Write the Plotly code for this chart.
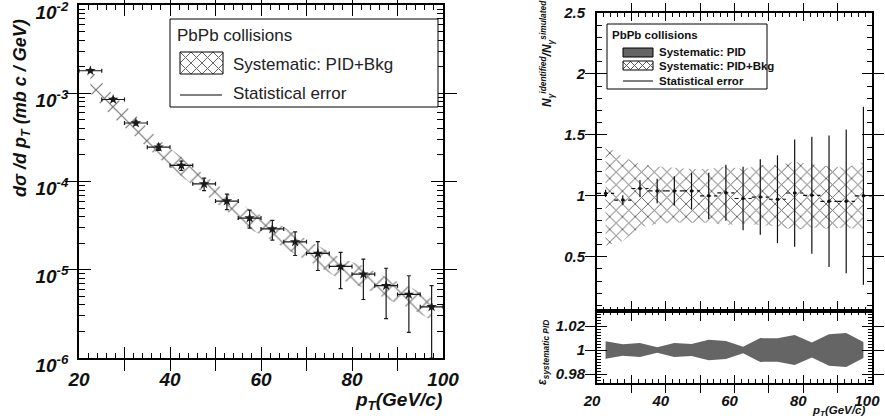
import plotly.graph_objects as go

# ---------------- data ----------------
pt = [22.5, 27.5, 32.5, 37.5, 42.5, 47.5, 52.5, 57.5,
      62.5, 67.5, 72.5, 77.5, 82.5, 87.5, 92.5, 97.5]
pt_half = [2.5, 2.5, 2.5, 2.5, 2.5, 2.5, 2.5, 2.5,
           2.5, 2.5, 2.5, 2.5, 2.5, 2.5, 2.5, 2.5]

spectrum = [1.8e-3, 8.5e-4, 4.6e-4, 2.45e-4, 1.52e-4, 9.4e-5, 6.0e-5, 3.85e-5,
            2.9e-5, 2.07e-5, 1.53e-5, 1.09e-5, 8.9e-6, 6.6e-6, 5.25e-6, 3.8e-6]
spectrum_stat = [5.4e-5, 3.4e-5, 2.3e-5, 2.0e-5, 1.8e-5, 1.5e-5, 1.2e-5, 8.9e-6,
                 7.3e-6, 6.2e-6, 5.5e-6, 4.8e-6, 4.3e-6, 3.8e-6, 3.3e-6, 2.8e-6]
spectrum_sys_hi = [1.85e-3, 9.6e-4, 5.6e-4, 3.0e-4, 1.9e-4, 1.18e-4, 7.5e-5, 4.8e-5,
                   3.6e-5, 2.6e-5, 1.9e-5, 1.36e-5, 1.1e-5, 8.2e-6, 6.5e-6, 4.7e-6]
spectrum_sys_lo = [1.0e-3, 5.3e-4, 3.2e-4, 1.85e-4, 1.15e-4, 7.2e-5, 4.6e-5, 2.9e-5,
                   2.15e-5, 1.5e-5, 1.1e-5, 7.7e-6, 6.3e-6, 4.7e-6, 3.7e-6, 2.7e-6]

ratio = [1.02, 0.965, 1.06, 1.04, 1.04, 1.04, 1.00, 1.025,
         0.978, 0.99, 0.972, 1.023, 1.004, 0.955, 0.955, 1.00]
ratio_stat = [0.03, 0.04, 0.07, 0.10, 0.12, 0.15, 0.19, 0.23,
              0.26, 0.31, 0.36, 0.44, 0.48, 0.54, 0.59, 0.73]
ratio_sys_hi = [1.41, 1.32, 1.26, 1.24, 1.23, 1.22, 1.22, 1.24,
                1.22, 1.25, 1.25, 1.28, 1.26, 1.24, 1.23, 1.28]
ratio_sys_lo = [0.59, 0.63, 0.74, 0.77, 0.78, 0.78, 0.78, 0.76,
                0.77, 0.76, 0.75, 0.72, 0.74, 0.73, 0.74, 0.72]

pid_sys = [0.0072, 0.0048, 0.0058, 0.0023, 0.0058, 0.0051, 0.0086, 0.0076,
           0.0028, 0.0099, 0.0097, 0.0124, 0.0063, 0.0132, 0.0141, 0.0066]

log_ticks = [1e-6, 1e-5, 1e-4, 1e-3, 1e-2]
log_ticktext = ["10<sup>-6</sup>", "10<sup>-5</sup>", "10<sup>-4</sup>",
                "10<sup>-3</sup>", "10<sup>-2</sup>"]
x_ticks = [20, 30, 40, 50, 60, 70, 80, 90, 100]
x_ticktext = ["20", "", "40", "", "60", "", "80", "", "100"]

legend_title = "PbPb collisions"
legend_left = ["Systematic: PID+Bkg", "Statistical error"]
legend_right = ["Systematic: PID", "Systematic: PID+Bkg", "Statistical error"]

# ---------------- styling ----------------
FONT = "Liberation Sans"
W, H = 885, 420
hatch_left = dict(shape="x", fgcolor="#707070", bgcolor="rgba(255,255,255,0)",
                  size=12, solidity=0.18)
hatch_right = dict(shape="x", fgcolor="#606060", bgcolor="rgba(255,255,255,0)",
                   size=9, solidity=0.2)
PID_GRAY = "#656565"

fig = go.Figure()

# ---------------- left panel ----------------
fig.add_trace(go.Scatter(x=pt, y=spectrum_sys_hi, mode="lines", line=dict(width=0),
                         showlegend=False, hoverinfo="skip", xaxis="x", yaxis="y"))
fig.add_trace(go.Scatter(x=pt, y=spectrum_sys_lo, mode="lines", line=dict(width=0),
                         fill="tonexty", fillcolor="rgba(0,0,0,0)", fillpattern=hatch_left,
                         showlegend=False, hoverinfo="skip", xaxis="x", yaxis="y"))
fig.add_trace(go.Scatter(
    x=pt, y=spectrum, mode="markers",
    marker=dict(symbol="star", size=8, color="#1a1a1a"),
    error_y=dict(type="data", array=spectrum_stat, color="#1a1a1a", thickness=1.2, width=2),
    error_x=dict(type="data", array=pt_half, color="#1a1a1a", thickness=1.2, width=2),
    showlegend=False, xaxis="x", yaxis="y"))

# ---------------- right upper panel ----------------
fig.add_trace(go.Scatter(x=pt, y=ratio_sys_hi, mode="lines", line=dict(width=0),
                         showlegend=False, hoverinfo="skip", xaxis="x2", yaxis="y2"))
fig.add_trace(go.Scatter(x=pt, y=ratio_sys_lo, mode="lines", line=dict(width=0),
                         fill="tonexty", fillcolor="rgba(0,0,0,0)", fillpattern=hatch_right,
                         showlegend=False, hoverinfo="skip", xaxis="x2", yaxis="y2"))
hx, hy = [], []
for c, hw, r in zip(pt, pt_half, ratio):
    hx += [c - hw, c + hw, None]
    hy += [r, r, None]
fig.add_trace(go.Scatter(x=hx, y=hy, mode="lines",
                         line=dict(color="#111111", width=1.2, dash="4px,3px"),
                         showlegend=False, hoverinfo="skip", xaxis="x2", yaxis="y2"))
fig.add_trace(go.Scatter(
    x=pt, y=ratio, mode="markers",
    marker=dict(symbol="circle", size=3.5, color="#111111"),
    error_y=dict(type="data", array=ratio_stat, color="#111111", thickness=1.2, width=0),
    showlegend=False, xaxis="x2", yaxis="y2"))

# ---------------- right lower panel ----------------
pid_hi = [1 + h for h in pid_sys]
pid_lo = [1 - h for h in pid_sys]
fig.add_trace(go.Scatter(x=pt, y=pid_lo, mode="lines", line=dict(width=0),
                         showlegend=False, hoverinfo="skip", xaxis="x3", yaxis="y3"))
fig.add_trace(go.Scatter(x=pt, y=pid_hi, mode="lines", line=dict(width=0),
                         fill="tonexty", fillcolor=PID_GRAY,
                         showlegend=False, hoverinfo="skip", xaxis="x3", yaxis="y3"))

# empty traces so the overlay (minor-tick) axes are drawn
for xa, ya in [("x4", "y"), ("x", "y4"), ("x5", "y2"), ("x2", "y5"), ("x6", "y3"), ("x3", "y6")]:
    fig.add_trace(go.Scatter(x=[None], y=[None], mode="markers", showlegend=False,
                             hoverinfo="skip", xaxis=xa, yaxis=ya))

# ---------------- axes ----------------
def tfont(size):
    return dict(family=FONT, size=size, color="#111", weight="bold", style="italic")

common = dict(showline=True, linecolor="black", mirror="allticks", ticks="inside",
              tickcolor="black", showgrid=False, zeroline=False, automargin=False,
              ticklabeloverflow="allow")

xl = [79 / W, 443 / W]
yl = [(H - 358) / H, (H - 5) / H]
xr = [597 / W, 872 / W]
yr_up = [(H - 311) / H, (H - 13) / H]
yr_lo = [(H - 383) / H, (H - 311) / H]


def minor_axis(over, anchor, rng, vals, tlen, lw, typ="linear"):
    return dict(overlaying=over, anchor=anchor, range=rng, type=typ, tickmode="array",
                tickvals=vals, showticklabels=False,
                ticklen=tlen, tickwidth=1, linewidth=lw, **common)


minor_x = [v for v in range(22, 100, 2) if v % 10 != 0]
minor_log = [k * d for d in [1e-6, 1e-5, 1e-4, 1e-3] for k in range(2, 10)]
minor_r = [round(0.1 * k, 2) for k in range(1, 25) if k % 5 != 0]
minor_lo = [round(0.975 + 0.0025 * k, 4) for k in range(0, 23)]

fig.update_layout(
    xaxis=dict(domain=xl, anchor="y", range=[20, 100.0001], tickmode="array",
               tickvals=x_ticks, ticktext=x_ticktext, ticklen=11, tickwidth=1.2,
               linewidth=1.5, tickfont=tfont(19), ticklabelstandoff=3, **common),
    yaxis=dict(domain=yl, anchor="x", type="log", range=[-6.0001, -1.9999],
               tickmode="array", tickvals=log_ticks, ticktext=log_ticktext,
               ticklen=12, tickwidth=1.2, linewidth=1.5, tickfont=tfont(19),
               ticklabelstandoff=5, ticklabelshift=7, **common),
    xaxis4=minor_axis("x", "y", [20, 100.0001], minor_x, 5, 1.5),
    yaxis4=minor_axis("y", "x", [-6.0001, -1.9999], minor_log, 6, 1.5, typ="log"),
    xaxis2=dict(domain=xr, anchor="y2", range=[20, 100.0001], tickmode="array",
                tickvals=x_ticks, ticktext=x_ticktext, showticklabels=False,
                ticklen=8, linewidth=2, **common),
    yaxis2=dict(domain=yr_up, anchor="x2", range=[0.055, 2.5001], dtick=0.5,
                ticklen=10, linewidth=2, tickfont=tfont(15), ticklabelstandoff=7,
                **common),
    xaxis5=minor_axis("x2", "y2", [20, 100.0001], minor_x, 4, 2),
    yaxis5=minor_axis("y2", "x2", [0.055, 2.5001], minor_r, 5, 2),
    xaxis3=dict(domain=xr, anchor="y3", range=[20, 100.0001], tickmode="array",
                tickvals=x_ticks, ticktext=x_ticktext, ticklen=8, linewidth=2,
                tickfont=tfont(15), ticklabelstandoff=3, ticklabelshift=-5, **common),
    yaxis3=dict(domain=yr_lo, anchor="x3", range=[0.9725, 1.0325],
                tickmode="array", tickvals=[0.98, 1.0, 1.02],
                ticktext=["0.98", "1", "1.02"],
                ticklen=10, linewidth=2, tickfont=tfont(15), ticklabelstandoff=7,
                **common),
    xaxis6=minor_axis("x3", "y3", [20, 100.0001], minor_x, 4, 2),
    yaxis6=minor_axis("y3", "x3", [0.9725, 1.0325], minor_lo, 4, 2),
)

# ---------------- hand-drawn legends (layout decoration) ----------------
shapes = []
ann = []


def px(x):
    return x / W


def py(y):
    return 1 - y / H


def rect(x0, y0, x1, y1, fill="rgba(0,0,0,0)", lw=1):
    shapes.append(dict(type="rect", xref="paper", yref="paper",
                       x0=px(x0), x1=px(x1), y0=py(y1), y1=py(y0),
                       line=dict(color="black", width=lw), fillcolor=fill, layer="above"))


def hline(x0, x1, y, lw=1):
    shapes.append(dict(type="line", xref="paper", yref="paper",
                       x0=px(x0), x1=px(x1), y0=py(y), y1=py(y),
                       line=dict(color="black", width=lw), layer="above"))


def hatch(x0, y0, x1, y1, step, color):
    segs = []
    c = x0 - y1
    while c < x1 - y0:
        xs, xe = max(x0, y0 + c), min(x1, y1 + c)
        if xe > xs:
            segs.append("M%.5f,%.5f L%.5f,%.5f" % (px(xs), py(xs - c), px(xe), py(xe - c)))
        c += step
    c = x0 + y0
    while c < x1 + y1:
        xs, xe = max(x0, c - y1), min(x1, c - y0)
        if xe > xs:
            segs.append("M%.5f,%.5f L%.5f,%.5f" % (px(xs), py(c - xs), px(xe), py(c - xe)))
        c += step
    shapes.append(dict(type="path", xref="paper", yref="paper", path=" ".join(segs),
                       line=dict(color=color, width=1), layer="above"))


def text(t, x, y, size, bold=False, color="#222"):
    ann.append(dict(text=t, x=px(x), y=py(y), xref="paper", yref="paper",
                    showarrow=False, xanchor="left", yanchor="middle",
                    font=dict(family=FONT, size=size, color=color,
                              weight="bold" if bold else "normal")))


# left legend
rect(170, 19, 438, 107, fill="white")
text(legend_title, 175, 35, 17)
hatch(180, 52, 223, 74, 11, "#666")
rect(180, 52, 223, 74)
text(legend_left[0], 231, 64, 17)
hline(180, 222, 95)
text(legend_left[1], 231, 94, 17)

# right legend
rect(607, 24, 767, 89, fill="white")
text(legend_title, 610, 35, 11.5, bold=True, color="#111")
rect(623, 48, 653, 57, fill=PID_GRAY)
text(legend_right[0], 657, 52, 11.5, bold=True, color="#111")
hatch(623, 61, 653, 70, 8, "#555")
rect(623, 61, 653, 70)
text(legend_right[1], 657, 66, 11.5, bold=True, color="#111")
hline(623, 653, 81)
text(legend_right[2], 657, 81, 11.5, bold=True, color="#111")

# ---------------- axis titles (annotations) ----------------
ann.append(dict(text="dσ /d p<sub>T</sub> (mb c / GeV)", x=px(22), y=py(108),
                xref="paper", yref="paper", textangle=-90, showarrow=False,
                xanchor="center", yanchor="middle", font=tfont(18)))
ann.append(dict(text="p<sub>T</sub>(GeV/c)", x=px(444), y=py(387),
                xref="paper", yref="paper", showarrow=False,
                xanchor="right", yanchor="top", font=tfont(19)))
ann.append(dict(text="N<sub>γ</sub><sup>identified</sup>/N<sub>γ</sub><sup>simulated</sup>",
                x=px(547), y=py(54), xref="paper", yref="paper", textangle=-90,
                showarrow=False, xanchor="center", yanchor="middle", font=tfont(12)))
ann.append(dict(text="ε<sub>systematic PID</sub>",
                x=px(543), y=py(353), xref="paper", yref="paper", textangle=-90,
                showarrow=False, xanchor="center", yanchor="middle", font=tfont(12)))
ann.append(dict(text="p<sub>T</sub>(GeV/c)", x=px(867), y=py(402),
                xref="paper", yref="paper", showarrow=False,
                xanchor="right", yanchor="top", font=tfont(11.5)))

fig.update_layout(
    template="none",
    shapes=shapes, annotations=ann, showlegend=False,
    width=W, height=H, margin=dict(l=0, r=0, t=0, b=0, pad=0),
    paper_bgcolor="white", plot_bgcolor="rgba(0,0,0,0)",
    font=dict(family=FONT, color="black"),
)

fig.write_html("out.html")
